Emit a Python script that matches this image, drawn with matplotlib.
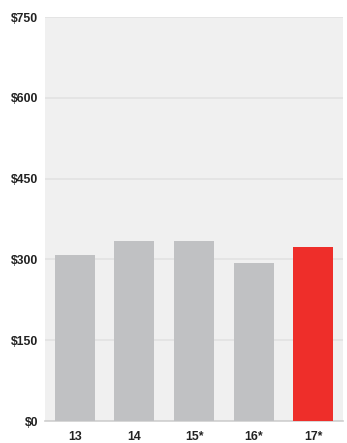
import matplotlib
matplotlib.use("Agg")
import matplotlib.pyplot as plt

categories = ["13", "14", "15*", "16*", "17*"]
values = [308, 334, 334, 293, 323]
yticks = [0, 150, 300, 450, 600, 750]
ytick_labels = ["$0", "$150", "$300", "$450", "$600", "$750"]

plt.rcParams['font.family'] = ['Liberation Sans', 'DejaVu Sans']

fig = plt.figure(figsize=(3.47, 4.43), dpi=100)
ax = fig.add_axes([45/347, 1 - 421/443, 298/347, 404/443])
ax.set_facecolor("#f0f0f0")

colors = ["#c0c1c3"] * 4 + ["#ee2e2a"]
x = range(len(categories))
ax.bar(x, values, width=0.67, color=colors, zorder=3)

ax.set_xlim(-0.5, len(categories) - 0.5)
ax.set_ylim(0, 750)
ax.set_yticks(yticks)
ax.set_yticklabels(ytick_labels)
ax.set_xticks(list(x))
ax.set_xticklabels(categories)
ax.yaxis.grid(True, color="#e2e2e2", linewidth=1.2, zorder=1)
ax.set_axisbelow(True)

for s in ["top", "right", "left"]:
    ax.spines[s].set_visible(False)
ax.spines["bottom"].set_color("#cfcfcf")
ax.spines["bottom"].set_linewidth(1.2)

ax.tick_params(axis="both", length=0, labelsize=8.8, colors="#222222")
ax.tick_params(axis="y", pad=5)
ax.tick_params(axis="x", pad=7.5)
for lab in ax.get_xticklabels() + ax.get_yticklabels():
    lab.set_fontweight("bold")

fig.savefig("out.png", dpi=100)
